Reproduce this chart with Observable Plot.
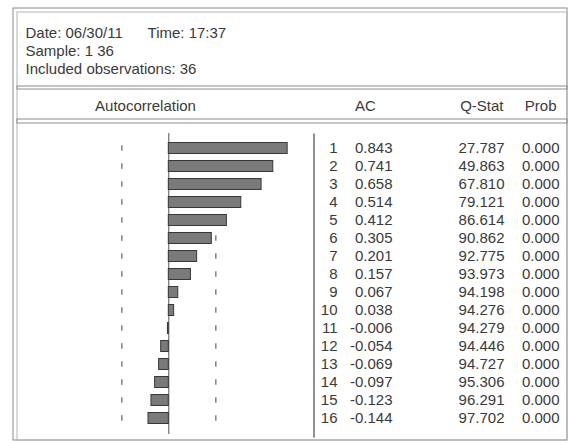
<!DOCTYPE html>
<html><head><meta charset="utf-8">
<script src="https://cdn.jsdelivr.net/npm/d3@7"></script>
<script src="https://cdn.jsdelivr.net/npm/@observablehq/plot@0.6"></script>
<style>body{margin:0;background:#fff} #chart svg{display:block}</style>
</head><body><div id="chart"></div>
<script>
// ---- data ----
const headerLines = ["Date: 06/30/11      Time: 17:37", "Sample: 1 36", "Included observations: 36"];
const columnHeaders = ["Autocorrelation", "AC", "Q-Stat", "Prob"];
const lags = [1, 2, 3, 4, 5, 6, 7, 8, 9, 10, 11, 12, 13, 14, 15, 16];
const ac = [0.843, 0.741, 0.658, 0.514, 0.412, 0.305, 0.201, 0.157, 0.067, 0.038, -0.006, -0.054, -0.069, -0.097, -0.123, -0.144];
const qStat = [27.787, 49.863, 67.810, 79.121, 86.614, 90.862, 92.775, 93.973, 94.198, 94.276, 94.279, 94.446, 94.727, 95.306, 96.291, 97.702];
const prob = [0, 0, 0, 0, 0, 0, 0, 0, 0, 0, 0, 0, 0, 0, 0, 0];
const nObs = 36;

// ---- build ----
const rows = lags.map((lag, i) => ({lag, ac: ac[i], q: qStat[i], p: prob[i]}));
const bound = 2 / Math.sqrt(nObs);
const boundRows = rows.flatMap(r => [{lag: r.lag, b: -bound}, {lag: r.lag, b: bound}]);
const W = 569, H = 441;
const ink = "#3a3a3a";
const line = "#8c8c8c";
const x0 = 168.3, unit = 141;

const plot = Plot.plot({
  width: W, height: H, margin: 0,
  style: {fontFamily: "'Liberation Sans', Arial, sans-serif", fontSize: "15px", color: ink, background: "#fff", whiteSpace: "pre"},
  x: {domain: [-1, 1], range: [x0 - unit, x0 + unit], axis: null},
  y: {type: "band", domain: lags, range: [133.3, 433.3], padding: 0, axis: null},
  marks: [
    Plot.frame({stroke: line, insetLeft: 12.5, insetTop: 7.5, insetRight: 2.5, insetBottom: 1.5}),
    Plot.frame({stroke: "#b4b4b4", insetLeft: 16.5, insetTop: 11.5, insetRight: 2.5, insetBottom: 1.5}),
    Plot.frame({stroke: line, insetLeft: 16.5, insetRight: 2.5, insetTop: 85.5, insetBottom: H - 88.5}),
    Plot.frame({stroke: line, insetLeft: 16.5, insetRight: 2.5, insetTop: 118.5, insetBottom: H - 122.5}),
    Plot.text([headerLines.join("\n")], {frameAnchor: "top-left", text: d => d, dx: 25, dy: 25, lineAnchor: "top", lineHeight: 1.2, fill: ink}),
    Plot.text([columnHeaders[0]], {frameAnchor: "top-left", text: d => d, dx: 145, dy: 110, textAnchor: "middle", lineAnchor: "bottom", fill: ink}),
    Plot.text([columnHeaders[1]], {frameAnchor: "top-left", text: d => d, dx: 365, dy: 110, textAnchor: "middle", lineAnchor: "bottom", fill: ink}),
    Plot.text([columnHeaders[2]], {frameAnchor: "top-left", text: d => d, dx: 503, dy: 110, textAnchor: "end", lineAnchor: "bottom", fill: ink}),
    Plot.text([columnHeaders[3]], {frameAnchor: "top-left", text: d => d, dx: 556, dy: 110, textAnchor: "end", lineAnchor: "bottom", fill: ink}),
    Plot.tickX(boundRows, {x: "b", y: "lag", stroke: "#8a8a8a", strokeWidth: 1.6, insetTop: 6.3, insetBottom: 6.3}),
    Plot.ruleX([0], {stroke: "#555", strokeWidth: 1, insetTop: 133, insetBottom: H - 434}),
    Plot.barX(rows, {x: "ac", y: "lag", fill: "#7a7a7a", stroke: "#383838", strokeWidth: 1, insetTop: 3.5, insetBottom: 3.5}),
    Plot.frame({fill: "#909090", stroke: "none", insetLeft: 312.5, insetRight: W - 314.5, insetTop: 133, insetBottom: H - 437}),
    Plot.text(rows, {y: "lag", text: d => String(d.lag), frameAnchor: "left", dx: 337, textAnchor: "end", fill: ink}),
    Plot.text(rows, {y: "lag", text: d => d.ac.toFixed(3), frameAnchor: "left", dx: 392, textAnchor: "end", fill: ink}),
    Plot.text(rows, {y: "lag", text: d => d.q.toFixed(3), frameAnchor: "left", dx: 504, textAnchor: "end", fill: ink}),
    Plot.text(rows, {y: "lag", text: d => d.p.toFixed(3), frameAnchor: "left", dx: 559, textAnchor: "end", fill: ink})
  ]
});
document.getElementById("chart").append(plot);
</script>
</body></html>
